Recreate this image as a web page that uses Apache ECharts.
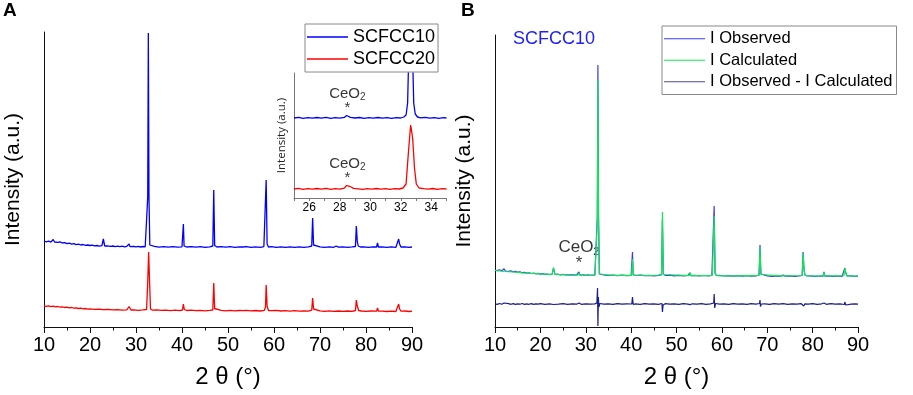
<!DOCTYPE html>
<html><head><meta charset="utf-8">
<script src="https://cdn.jsdelivr.net/npm/echarts@6/dist/echarts.min.js"></script>
<style>html,body{margin:0;padding:0;background:#fff}#c{width:913px;height:395px}</style>
</head><body><div id="c"></div>
<script>
// ---------- DATA (2θ in degrees, intensity in arbitrary units) ----------
const xTicksMain = [10, 20, 30, 40, 50, 60, 70, 80, 90];
const xTicksInset = [26, 28, 30, 32, 34];

const scfcc10 = [[10,86],[10.5,85.2],[11,85.8],[11.5,84.9],[12,87.5],[12.3,85],[13,84.6],[13.5,85.1],[14,84],[14.5,84.4],[15,83.3],[15.5,83.8],[16,82.9],[16.5,83.3],[17,82.4],[17.5,82.9],[18,82],[18.5,82.5],[19,81.6],[19.5,82],[20,81.5],[20.5,81.9],[21,81.1],[21.5,81.5],[22,80.9],[22.6,81.3],[22.9,88],[23.2,81],[23.7,81.2],[24.5,80.6],[25,81],[25.5,80.4],[26,80.9],[26.5,80.3],[27,80.8],[27.5,80.2],[28,80.7],[28.35,80.5],[28.5,83],[28.7,80.4],[29.5,80.7],[30,80.1],[30.5,80.6],[31,80],[31.5,80.5],[32,80.2],[32.35,81.5],[32.55,130],[32.68,294],[32.82,130],[33.0,82],[33.3,80.3],[34,80.6],[35,79.9],[36,80.4],[37,79.8],[38,80.3],[39,79.8],[40,80.2],[40.15,81],[40.3,103],[40.45,81],[41,80],[42,80.4],[43,79.8],[44,80.3],[45,79.7],[46,80.2],[46.7,81],[46.9,137],[47.1,81.5],[47.6,80],[48.5,80.4],[49.5,79.8],[50.5,80.3],[51.5,79.7],[52.5,80.2],[52.9,82],[53.2,80],[54,80.3],[55,79.7],[56,80.2],[57,79.6],[57.8,80.4],[58.1,82],[58.3,147],[58.5,83],[58.8,80],[59.5,80.3],[60.5,79.7],[61.5,80.2],[62.5,79.6],[63.5,80.1],[64.5,79.7],[65.5,80.2],[66.5,79.6],[67.5,80.1],[68.2,81],[68.4,109],[68.6,82],[69,80],[70,80.2],[71,79.6],[72,80.1],[73,79.7],[73.5,81],[74,79.8],[75,80.1],[76,79.6],[77,80.1],[77.7,80.5],[77.9,101],[78.1,86],[78.3,81],[78.8,80],[79.5,80.2],[80.5,79.6],[81.5,80.1],[82.3,80],[82.5,84],[82.7,80],[83.5,80.2],[84.5,79.6],[85.5,80.1],[86.5,79.7],[86.9,80.5],[87.1,88],[87.3,83],[87.6,80],[88.5,80.2],[89.3,79.7],[90,80]];

const scfcc20 = [[10,21],[10.5,20.6],[11,21.2],[11.5,20.4],[12,20.8],[12.5,20.1],[13,20.5],[13.5,19.8],[14,20.2],[14.5,19.5],[15,19.9],[15.5,19.2],[16,19.5],[16.5,18.8],[17,19.1],[17.5,18.5],[18,18.8],[18.5,18.2],[19,18.5],[19.5,17.9],[20,18.2],[21,17.6],[22,17.9],[22.8,17.4],[23,18.5],[23.2,17.4],[24,17.6],[25,17.1],[26,17.4],[27,16.9],[28,17.2],[28.35,17.5],[28.5,20.5],[28.7,19],[28.9,17],[29.5,17.2],[30.5,16.7],[31.5,17.1],[32.3,17.5],[32.55,45],[32.75,75],[32.95,45],[33.15,18],[33.6,16.8],[34.5,17.1],[35.5,16.6],[36.5,16.9],[37.5,16.4],[38.5,16.8],[39.5,16.4],[40.1,17],[40.3,23],[40.5,17.5],[41,16.5],[42,16.8],[43,16.3],[44,16.7],[45,16.2],[46,16.6],[46.7,17],[46.9,44],[47.1,18.5],[47.5,16.5],[48.5,16.7],[49.5,16.2],[50.5,16.6],[51.5,16.1],[52.5,16.5],[52.9,17.8],[53.2,16.4],[54,16.6],[55,16.1],[56,16.5],[57,16],[57.9,16.6],[58.15,20],[58.3,42],[58.5,21],[58.8,16.5],[59.5,16.3],[60.5,16.6],[61.5,16],[62.5,16.4],[63.5,15.9],[64.5,16.3],[65.5,15.8],[66.5,16.2],[67.5,15.8],[68.2,16.8],[68.4,29],[68.6,18],[69,16],[70,16.2],[71,15.7],[72,16.1],[73,15.7],[74,16],[75,15.6],[76,16],[77,15.6],[77.7,16.5],[77.9,27],[78.1,21],[78.4,16.5],[79,16],[80,15.7],[81,16],[82.3,15.8],[82.5,19],[82.7,16],[83.5,15.9],[84.5,15.5],[85.5,15.9],[86.5,15.5],[86.9,16.3],[87.1,23],[87.3,18],[87.6,15.8],[88.5,16],[89.3,15.5],[90,15.8]];

const insetScfcc10 = [[25,80],[25.3,80.6],[25.6,79.7],[25.9,80.4],[26.2,79.8],[26.5,80.5],[26.8,79.9],[27.1,80.6],[27.4,79.6],[27.7,80.3],[28,79.9],[28.3,80.6],[28.45,82.5],[28.55,82.8],[28.7,80.7],[29,80],[29.3,80.5],[29.6,79.7],[29.9,80.4],[30.2,79.8],[30.5,80.5],[30.8,79.9],[31.1,80.3],[31.4,79.6],[31.7,80.4],[32,80],[32.2,81],[32.35,83],[32.45,95],[32.52,140],[32.78,140],[32.85,95],[32.95,84],[33.1,81],[33.3,80.2],[33.6,80.6],[33.9,79.8],[34.2,80.4],[34.5,79.7],[34.8,80.3],[35,80]];

const insetScfcc20 = [[25,9],[25.3,9.6],[25.6,8.7],[25.9,9.4],[26.2,8.8],[26.5,9.5],[26.8,8.9],[27.1,9.6],[27.4,8.6],[27.7,9.3],[28,8.9],[28.3,9.8],[28.45,12.5],[28.6,11.8],[28.75,11],[28.9,9.6],[29.2,9.2],[29.5,8.7],[29.8,9.4],[30.1,8.8],[30.4,9.5],[30.7,8.9],[31,9.3],[31.3,8.6],[31.6,9.4],[31.9,9],[32.15,10],[32.35,14],[32.5,45],[32.65,73],[32.78,60],[32.9,30],[33.02,14],[33.2,10],[33.5,9.3],[33.8,8.8],[34.1,9.5],[34.4,8.7],[34.7,9.3],[35,9]];

const iObserved = [[10,57],[10.5,56.4],[11,57.2],[11.5,56.2],[12,58.2],[12.3,56],[13,55.7],[13.5,56.1],[14,55.2],[14.5,55.6],[15,54.8],[15.5,55.1],[16,54.3],[16.5,54.7],[17,53.9],[17.5,54.2],[18,53.5],[18.5,53.9],[19,53.2],[19.5,53.6],[20,52.9],[20.5,53.3],[21,52.7],[21.5,53],[22,52.4],[22.6,52.8],[22.9,59],[23.2,52.5],[23.7,52.8],[24.5,52.2],[25,52.6],[25.5,52],[26,52.4],[26.5,51.9],[27,52.3],[27.5,51.8],[28,52.2],[28.35,52],[28.5,55],[28.7,52],[29.5,52.2],[30,51.7],[30.5,52.1],[31,51.6],[31.5,52],[32,51.7],[32.35,53],[32.55,110],[32.68,262],[32.82,110],[33,53],[33.3,51.8],[34,52.1],[35,51.5],[36,51.9],[37,51.4],[38,51.8],[39,51.3],[40,51.7],[40.15,52.5],[40.3,75],[40.45,52.5],[41,51.5],[42,51.8],[43,51.3],[44,51.7],[45,51.2],[46,51.6],[46.7,52.3],[46.9,107],[47.1,53],[47.6,51.5],[48.5,51.8],[49.5,51.2],[50.5,51.6],[51.5,51.1],[52.5,51.5],[52.9,54],[53.2,51.4],[54,51.6],[55,51.1],[56,51.5],[57,51],[57.8,51.7],[58.1,53],[58.3,121],[58.5,54],[58.8,51.5],[59.5,51.6],[60.5,51],[61.5,51.4],[62.5,50.9],[63.5,51.3],[64.5,50.9],[65.5,51.3],[66.5,50.8],[67.5,51.2],[68.2,52],[68.4,82],[68.6,53],[69,51],[70,51.2],[71,50.7],[72,51.1],[73,50.8],[73.5,52],[74,50.9],[75,51.1],[76,50.6],[77,51],[77.7,51.5],[77.9,75],[78.1,57],[78.3,52],[78.8,51],[79.5,51.1],[80.5,50.6],[81.5,51],[82.3,50.8],[82.5,55],[82.7,50.9],[83.5,51.1],[84.5,50.6],[85.5,51],[86.5,50.6],[86.9,51.4],[87.1,59],[87.3,54],[87.6,51],[88.5,51.1],[89.3,50.6],[90,50.9]];

const iCalculated = [[10,56.5],[12,55.5],[14,55],[16,54.2],[18,53.6],[20,53.1],[22,52.7],[22.6,52.6],[22.9,59.5],[23.2,52.6],[25,52.3],[27,52],[28.3,51.9],[28.5,54],[28.7,51.9],[30,51.8],[32,51.7],[32.35,53],[32.55,105],[32.68,247],[32.82,105],[33,53],[33.3,51.8],[36,51.6],[40.1,51.6],[40.3,68],[40.5,51.8],[44,51.5],[46.7,52],[46.9,115],[47.1,52.5],[47.5,51.5],[52.8,51.4],[53,54.5],[53.2,51.4],[57.9,51.6],[58.1,53],[58.3,111],[58.5,54],[58.8,51.4],[63,51.2],[68.2,51.6],[68.4,80],[68.6,52.5],[69,51.2],[73.3,51.1],[73.5,52],[73.7,51.1],[77.7,51.5],[77.9,74],[78.1,58],[78.3,52],[78.8,51],[82.3,51],[82.5,54.5],[82.7,51],[86.9,51.3],[87.1,59],[87.3,54],[87.6,51],[90,50.9]];

const iDifference = [[10,23.2],[10.5,22.6],[11,23.5],[11.5,22.7],[12,24],[12.3,22.5],[13,23.3],[13.5,22.7],[14,23.4],[14.5,22.6],[15,23.2],[15.5,22.8],[16,23.5],[16.5,22.6],[17,23.1],[17.5,22.7],[18,23.4],[18.5,22.6],[19,23.2],[19.5,22.8],[20,23.3],[21,22.6],[22,23.2],[22.9,22.5],[23.2,23.4],[24,22.8],[25,23.3],[26,22.7],[27,23.2],[28,22.8],[28.5,24],[29,22.7],[30,23.2],[31,22.8],[32,23.1],[32.45,24],[32.6,39],[32.68,1],[32.78,30],[32.9,20],[33.1,23.5],[34,22.8],[35,23.2],[36,22.7],[37,23.3],[38,22.8],[39,23.2],[40.15,23],[40.3,30],[40.45,22.5],[41,23.2],[42,22.7],[43,23.3],[44,22.8],[45,23.2],[46,22.7],[46.8,23.5],[46.9,15],[47.05,22],[47.5,23.3],[48.5,22.8],[49.5,23.2],[50.5,22.7],[51.5,23.3],[52.5,22.8],[53,22.4],[53.5,23.2],[54.5,22.8],[55.5,23.3],[56.5,22.7],[57.5,23.2],[58.2,24],[58.3,33],[58.42,19],[58.6,23.5],[59.5,22.8],[60.5,23.2],[61.5,22.7],[62.5,23.3],[63.5,22.8],[64.5,23.2],[65.5,22.7],[66.5,23.3],[67.5,22.8],[68.3,23.5],[68.4,27],[68.5,20.5],[68.7,23],[69.5,23.2],[70.5,22.7],[71.5,23.3],[72.5,22.8],[73.5,23.3],[74.5,22.7],[75.5,23.2],[76.5,22.8],[77.5,23.3],[77.9,25],[78.05,21],[78.3,23.2],[79,22.8],[80,23.3],[81,22.7],[82,23.2],[82.5,24],[83,22.7],[84,23.3],[85,22.8],[86,23.2],[87,22.5],[87.1,25],[87.3,22],[87.6,23.2],[88.5,22.8],[89.3,23.2],[90,22.9]];

// CeO2 marker positions [2θ, intensity]
const ceo2InsetTop = [28.5, 83];
const ceo2InsetBottom = [28.5, 12.5];
const ceo2PanelB = [28.5, 55];

// ---------- CHART ----------
const FONT = 'Liberation Sans, Arial, sans-serif';
const chart = echarts.init(document.getElementById('c'), null, {renderer: 'canvas'});

function mainX(gridIndex) {
  return {
    type: 'value', gridIndex, min: 10, max: 90, interval: 10,
    axisLine: {show: true, onZero: false, lineStyle: {color: '#111', width: 1}},
    axisTick: {show: true, length: 6, inside: false, lineStyle: {color: '#111'}},
    minorTick: {show: true, splitNumber: 2, length: 3.5, lineStyle: {color: '#111'}},
    axisLabel: {fontFamily: FONT, fontSize: 20, color: '#000', margin: 8,
      formatter: v => xTicksMain.includes(v) ? String(v) : ''},
    splitLine: {show: false},
    name: '2 θ (°)', nameLocation: 'middle', nameGap: 38,
    nameTextStyle: {fontFamily: FONT, fontSize: 24, color: '#000'}
  };
}
function mainY(gridIndex, max) {
  return {
    type: 'value', gridIndex, min: 0, max,
    axisLine: {show: true, lineStyle: {color: '#111', width: 1}},
    axisTick: {show: false}, axisLabel: {show: false}, splitLine: {show: false},
    name: 'Intensity (a.u.)', nameLocation: 'middle', nameGap: 20,
    nameTextStyle: {fontFamily: FONT, fontSize: 21, color: '#000'}
  };
}
const ceLabel = (fs, sub) => ({
  show: true, position: 'top', distance: 2, color: '#000',
  formatter: '{t|CeO}{s|2}\n{a|*}',
  rich: {
    t: {fontFamily: FONT, fontSize: fs, lineHeight: fs + 2, color: '#000'},
    s: {fontFamily: FONT, fontSize: sub, lineHeight: 5, verticalAlign: 'bottom', color: '#000'},
    a: {fontFamily: FONT, fontSize: fs, lineHeight: fs - 4, color: '#000', align: 'center'}
  }
});

const option = {
  backgroundColor: '#fff',
  animation: false,
  textStyle: {fontFamily: FONT},
  grid: [
    {left: 44, top: 32, width: 368, height: 295},
    {left: 294, top: 73, width: 152.5, height: 125},
    {left: 495, top: 35, width: 363, height: 292}
  ],
  xAxis: [
    mainX(0),
    {
      type: 'value', gridIndex: 1, min: 25, max: 35, interval: 1,
      axisLine: {show: true, onZero: false, lineStyle: {color: '#777'}},
      axisTick: {show: true, length: 3, lineStyle: {color: '#777'}},
      axisLabel: {fontFamily: FONT, fontSize: 12, color: '#000', margin: 4,
        formatter: v => xTicksInset.includes(v) ? String(v) : ''},
      splitLine: {show: false}
    },
    mainX(2)
  ],
  yAxis: [
    mainY(0, 295),
    {
      type: 'value', gridIndex: 1, min: 0, max: 125,
      axisLine: {show: true, lineStyle: {color: '#777'}},
      axisTick: {show: false}, axisLabel: {show: false}, splitLine: {show: false},
      name: 'Intensity (a.u.)', nameLocation: 'middle', nameGap: 6,
      nameTextStyle: {fontFamily: 'Open Sans, Liberation Sans, sans-serif', fontSize: 11.5, color: '#222'}
    },
    mainY(2, 292)
  ],
  legend: [
    {
      data: ['SCFCC10', 'SCFCC20'], orient: 'vertical', left: 305, top: 24,
      icon: 'rect', itemWidth: 41, itemHeight: 1.5, itemGap: 0,
      padding: [2, 3, 2, 2], borderColor: '#888', borderWidth: 1, backgroundColor: '#fff',
      textStyle: {fontFamily: FONT, fontSize: 18, color: '#000', lineHeight: 22}
    },
    {
      data: ['I Observed', 'I Calculated', 'I Observed - I Calculated'], orient: 'vertical', left: 662, top: 26,
      icon: 'rect', itemWidth: 41, itemHeight: 1.2, itemGap: 0,
      padding: [2, 4, 2, 2], borderColor: '#888', borderWidth: 1, backgroundColor: '#fff',
      textStyle: {fontFamily: FONT, fontSize: 16.5, color: '#000', lineHeight: 21.5}
    }
  ],
  graphic: [
    {type: 'text', left: 3, top: 1, style: {text: 'A', font: 'bold 19px ' + FONT, fill: '#000'}},
    {type: 'text', left: 461, top: 1, style: {text: 'B', font: 'bold 19px ' + FONT, fill: '#000'}},
    {type: 'text', left: 513, top: 30, style: {text: 'SCFCC10', font: '18px ' + FONT, fill: '#2020ff'}}
  ],
  series: [
    {name: 'SCFCC10', type: 'line', xAxisIndex: 0, yAxisIndex: 0, data: scfcc10, showSymbol: false,
      lineStyle: {color: '#0000ff', width: 1.3}, itemStyle: {color: '#0000ff'}},
    {name: 'SCFCC20', type: 'line', xAxisIndex: 0, yAxisIndex: 0, data: scfcc20, showSymbol: false,
      lineStyle: {color: '#ff0000', width: 1.3}, itemStyle: {color: '#ff0000'}},
    {name: 'SCFCC10', type: 'line', xAxisIndex: 1, yAxisIndex: 1, data: insetScfcc10, showSymbol: false, clip: true,
      lineStyle: {color: '#0000ff', width: 1.3}, itemStyle: {color: '#0000ff'}},
    {name: 'SCFCC20', type: 'line', xAxisIndex: 1, yAxisIndex: 1, data: insetScfcc20, showSymbol: false, clip: true,
      lineStyle: {color: '#ff0000', width: 1.3}, itemStyle: {color: '#ff0000'}},
    {name: 'ceo2-inset', type: 'scatter', xAxisIndex: 1, yAxisIndex: 1, symbolSize: 0, silent: true,
      data: [ceo2InsetTop, ceo2InsetBottom], label: ceLabel(15, 10)},
    {name: 'I Observed', type: 'line', xAxisIndex: 2, yAxisIndex: 2, data: iObserved, showSymbol: false,
      lineStyle: {color: '#3a3af5', width: 1.2}, itemStyle: {color: '#3a3af5'}},
    {name: 'I Calculated', type: 'line', xAxisIndex: 2, yAxisIndex: 2, data: iCalculated, showSymbol: false,
      lineStyle: {color: '#10e850', width: 1.2}, itemStyle: {color: '#10e850'}},
    {name: 'I Observed - I Calculated', type: 'line', xAxisIndex: 2, yAxisIndex: 2, data: iDifference, showSymbol: false,
      lineStyle: {color: '#1c1c8a', width: 1.2}, itemStyle: {color: '#4a4a9a'}},
    {name: 'ceo2-b', type: 'scatter', xAxisIndex: 2, yAxisIndex: 2, symbolSize: 0, silent: true,
      data: [ceo2PanelB], label: ceLabel(17, 11)}
  ]
};
chart.setOption(option);
</script>
</body></html>
